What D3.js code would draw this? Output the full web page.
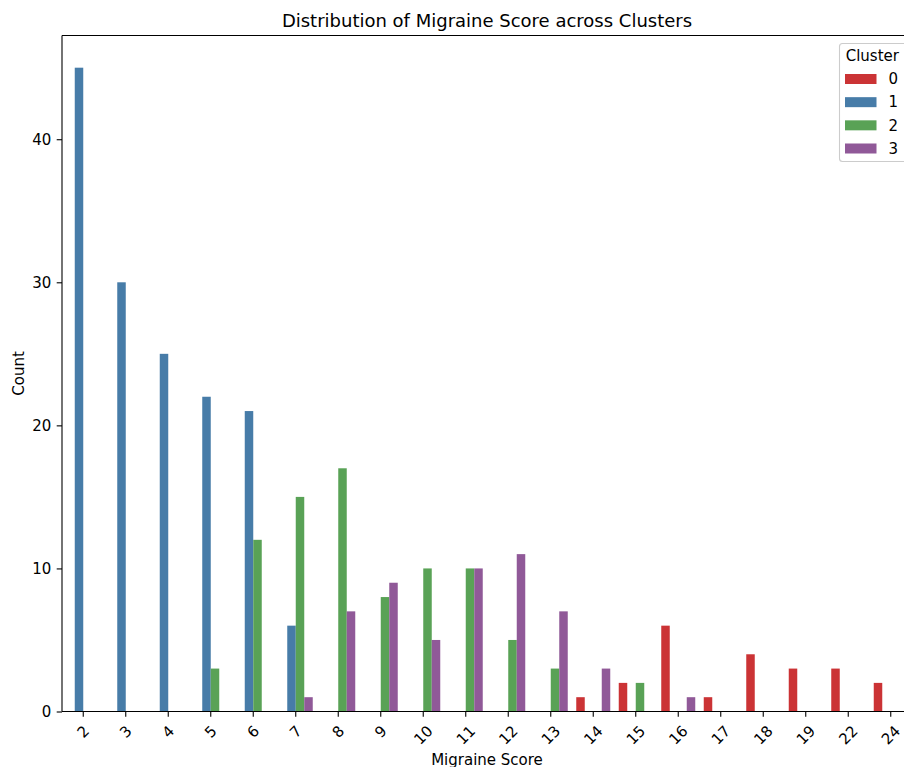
<!DOCTYPE html>
<html>
<head>
<meta charset="utf-8">
<script src="https://cdn.jsdelivr.net/npm/d3@7"></script>
<style>
  html, body { margin: 0; padding: 0; background: #ffffff; }
  svg { display: block; font-family: "DejaVu Sans", sans-serif; }
</style>
</head>
<body>
<svg id="chart" width="904" height="767"></svg>
<script>
// Migraine score values (x categories)
const scores = ["2","3","4","5","6","7","8","9","10","11","12","13","14","15","16","17","18","19","22","24"];
// Cluster labels (hue)
const clusters = ["0", "1", "2", "3"];
// Counts per cluster, aligned with scores
const cluster0 = [0, 0, 0, 0, 0, 0, 0, 0, 0, 0, 0, 0, 1, 2, 6, 1, 4, 3, 3, 2];
const cluster1 = [45, 30, 25, 22, 21, 6, 0, 0, 0, 0, 0, 0, 0, 0, 0, 0, 0, 0, 0, 0];
const cluster2 = [0, 0, 0, 3, 12, 15, 17, 8, 10, 10, 5, 3, 0, 2, 0, 0, 0, 0, 0, 0];
const cluster3 = [0, 0, 0, 0, 0, 1, 7, 9, 5, 10, 11, 7, 3, 0, 1, 0, 0, 0, 0, 0];
const yTicks = [0, 10, 20, 30, 40];
const palette = ["#cb3335", "#477ca8", "#59a256", "#905998"];

const counts = [cluster0, cluster1, cluster2, cluster3];
const bars = [];
clusters.forEach((c, ci) => {
  scores.forEach((s, si) => {
    if (counts[ci][si] > 0) bars.push({ score: s, cluster: c, count: counts[ci][si] });
  });
});

const FONT = 15;       // tick, label and legend text
const TITLE_FONT = 18;
const TICK = 5.3;

const svg = d3.select("#chart");
const plot = { left: 62, right: 912, top: 35.5, bottom: 711.5 };

const x = d3.scaleBand().domain(scores).range([plot.left, plot.right]).padding(0);
const hue = d3.scaleBand().domain(clusters).range([0.1 * x.bandwidth(), 0.9 * x.bandwidth()]).padding(0);
const yMax = d3.max([cluster0, cluster1, cluster2, cluster3].flat()) * 1.05;
const y = d3.scaleLinear().domain([0, yMax]).range([plot.bottom, plot.top]);
const color = d3.scaleOrdinal().domain(clusters).range(palette);

// Bars
svg.append("g")
  .selectAll("rect")
  .data(bars)
  .join("rect")
  .attr("x", d => x(d.score) + hue(d.cluster))
  .attr("width", hue.bandwidth())
  .attr("y", d => y(d.count))
  .attr("height", d => y(0) - y(d.count))
  .attr("fill", d => color(d.cluster));

// X axis
const xAxis = svg.append("g")
  .attr("transform", `translate(0,${plot.bottom})`)
  .call(d3.axisBottom(x).tickSize(TICK).tickPadding(TICK).tickSizeOuter(0));
xAxis.select(".domain").remove();
xAxis.selectAll(".tick line").attr("stroke", "#000").attr("stroke-width", 1.1);
xAxis.selectAll(".tick text").each(function () {
  const t = d3.select(this);
  t.attr("font-size", FONT).attr("fill", "#000").attr("font-family", "DejaVu Sans")
    .attr("text-anchor", "middle").attr("dy", null).attr("y", null);
  const bb = this.getBBox();
  const w = bb.width, h = FONT * 1.16;
  const half = (w + h) / Math.SQRT2 / 2;
  t.attr("transform", `translate(0,${2 * TICK + half}) rotate(-45)`)
    .attr("dy", "0.35em");
});

// Y axis
const yAxis = svg.append("g")
  .attr("transform", `translate(${plot.left},0)`)
  .call(d3.axisLeft(y).tickValues(yTicks).tickSize(TICK).tickPadding(TICK).tickSizeOuter(0));
yAxis.select(".domain").remove();
yAxis.selectAll(".tick line").attr("stroke", "#000").attr("stroke-width", 1.1);
yAxis.selectAll(".tick text")
  .attr("font-size", FONT).attr("fill", "#000").attr("font-family", "DejaVu Sans");

// Spines
const spines = svg.append("g").attr("stroke", "#000").attr("stroke-width", 1.1).attr("fill", "none");
spines.append("line").attr("x1", plot.left).attr("x2", plot.left).attr("y1", plot.top).attr("y2", plot.bottom);
spines.append("line").attr("x1", plot.left).attr("x2", plot.right).attr("y1", plot.bottom).attr("y2", plot.bottom);
spines.append("line").attr("x1", plot.left).attr("x2", plot.right).attr("y1", plot.top).attr("y2", plot.top);
spines.append("line").attr("x1", plot.right).attr("x2", plot.right).attr("y1", plot.top).attr("y2", plot.bottom);

// Title and axis labels
const cx = (plot.left + plot.right) / 2;
svg.append("text")
  .attr("x", cx).attr("y", 26.5)
  .attr("text-anchor", "middle").attr("font-size", TITLE_FONT).attr("fill", "#000")
  .text("Distribution of Migraine Score across Clusters");
svg.append("text")
  .attr("x", cx).attr("y", 764.5)
  .attr("text-anchor", "middle").attr("font-size", FONT).attr("fill", "#000")
  .text("Migraine Score");
svg.append("text")
  .attr("transform", `translate(24,${(plot.top + plot.bottom) / 2}) rotate(-90)`)
  .attr("text-anchor", "middle").attr("font-size", FONT).attr("fill", "#000")
  .text("Count");

// Legend
const legend = svg.append("g");
legend.append("rect")
  .attr("x", 839.5).attr("y", 43.5).attr("width", 72).attr("height", 118)
  .attr("rx", 3).attr("fill", "#fff").attr("fill-opacity", 0.8)
  .attr("stroke", "#cccccc").attr("stroke-width", 1.1);
legend.append("text")
  .attr("x", 872.3).attr("y", 61).attr("text-anchor", "middle")
  .attr("font-size", FONT).attr("fill", "#000").text("Cluster");
const rowY = d3.scaleLinear().domain([0, 3]).range([79, 148.5]);
clusters.forEach((c, i) => {
  legend.append("rect")
    .attr("x", 845).attr("y", rowY(i) - 5).attr("width", 31.5).attr("height", 10)
    .attr("fill", color(c));
  legend.append("text")
    .attr("x", 888.5).attr("y", rowY(i)).attr("dy", "0.35em")
    .attr("font-size", FONT).attr("fill", "#000").text(c);
});
</script>
</body>
</html>
